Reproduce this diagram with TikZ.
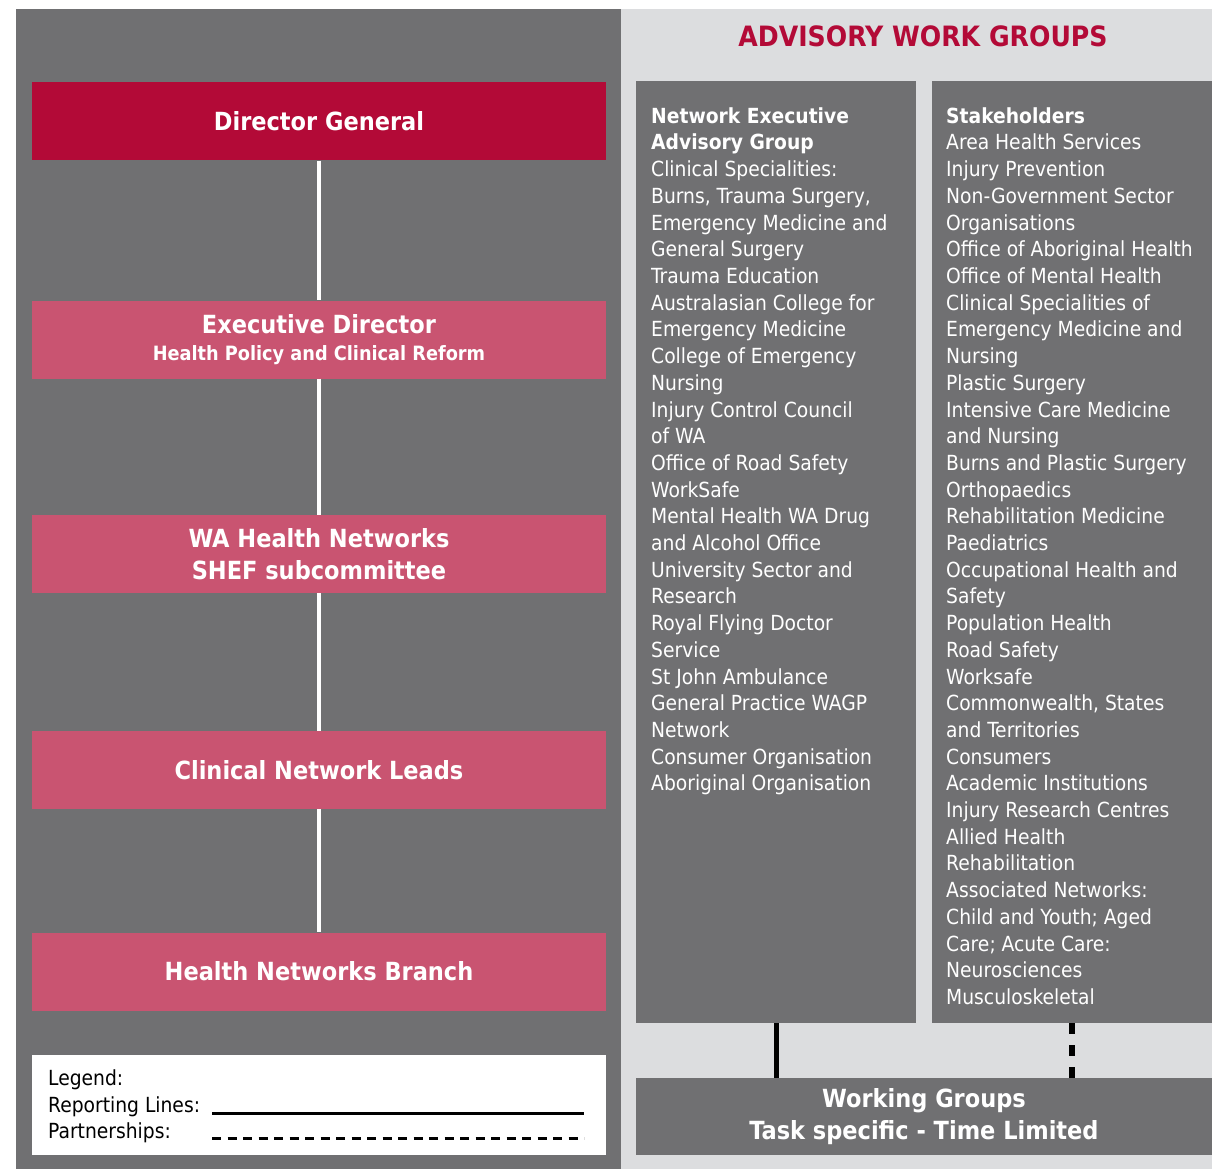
\documentclass[tikz,border=0pt]{standalone}
\usepackage{fontspec}
\setmainfont{DejaVu Sans Condensed}
\usepackage{tikz}
\usepackage{xcolor}
\definecolor{panelgrey}{HTML}{707072}
\definecolor{lightpanel}{HTML}{DCDDDF}
\definecolor{dgred}{HTML}{B30A37}
\definecolor{boxpink}{HTML}{C95471}

\begin{document}
\begin{tikzpicture}[x=1pt,y=-1pt,
  orgbox/.style={fill=boxpink,minimum width=574pt,minimum height=78pt,inner sep=0pt,text=white,align=center,font=\fontsize{25}{32}\selectfont\bfseries},
  colbox/.style={fill=panelgrey,anchor=north west,minimum width=280pt,minimum height=942pt,inner sep=0pt,outer sep=0pt},
  colline/.style={anchor=base west,inner sep=0pt,text=white,font=\fontsize{20.8}{24}\selectfont},
  legtext/.style={anchor=base west,inner sep=0pt,font=\fontsize{20.8}{24}\selectfont},
  whiteline/.style={line width=4pt,white},
  reportline/.style={line width=5pt,black},
  partline/.style={line width=6pt,black,dash pattern=on 11pt off 11pt}]
\useasboundingbox (0,0) rectangle (1212,1169);
\fill[white] (0,0) rectangle (1212,1169);
\fill[panelgrey] (16,9) rectangle (621,1169);
\fill[lightpanel] (621,9) rectangle (1212,1169);

\node[orgbox,fill=dgred] (dg) at (319,121.5) {Director General};
\node[orgbox] (ed) at (319,339.5) {Executive Director\\[-5pt]{\fontsize{19.7}{23}\selectfont Health Policy and Clinical Reform}};
\node[orgbox] (wa) at (319,554) {WA Health Networks\\SHEF subcommittee};
\node[orgbox] (cnl) at (319,770) {Clinical Network Leads};
\node[orgbox] (hnb) at (319,971.5) {Health Networks Branch};
\draw[whiteline] (dg) -- (ed);
\draw[whiteline] (ed) -- (wa);
\draw[whiteline] (wa) -- (cnl);
\draw[whiteline] (cnl) -- (hnb);

\node[fill=white,anchor=north west,minimum width=574pt,minimum height=100pt,inner sep=0pt] (legend) at (32,1055) {};
\node[legtext] (leg) at (48,1085) {Legend:};
\node[legtext] (rep) at (48,1112) {Reporting Lines:};
\node[legtext] (part) at (48,1138) {Partnerships:};
\coordinate (repA) at (212,1113);
\coordinate (repB) at (584,1113);
\coordinate (partA) at (212,1138);
\coordinate (partB) at (584,1138);
\draw[line width=3pt] (repA) -- (repB);
\draw[line width=3pt,dash pattern=on 9pt off 6.5pt] (partA) -- (partB);

\node[text=dgred,font=\fontsize{28}{32}\selectfont\bfseries] (title) at (923,36) {ADVISORY WORK GROUPS};

\node[colbox] (neag) at (636,81) {};
\node[colbox] (stake) at (932,81) {};
\foreach \t [count=\i from 0] in {\textbf{Network Executive},\textbf{Advisory Group},
  Clinical Specialities:,{Burns, Trauma Surgery,},Emergency Medicine and,General Surgery,
  Trauma Education,Australasian College for,Emergency Medicine,College of Emergency,
  Nursing,Injury Control Council,of WA,Office of Road Safety,WorkSafe,
  Mental Health WA Drug,and Alcohol Office,University Sector and,Research,
  Royal Flying Doctor,Service,St John Ambulance,General Practice WAGP,Network,
  Consumer Organisation,Aboriginal Organisation}
  \node[colline] (neag\i) at (651,{123.3+26.7*\i}) {\t};
\foreach \t [count=\i from 0] in {\textbf{Stakeholders},Area Health Services,
  Injury Prevention,Non-Government Sector,Organisations,Office of Aboriginal Health,
  Office of Mental Health,Clinical Specialities of,Emergency Medicine and,Nursing,
  Plastic Surgery,Intensive Care Medicine,and Nursing,Burns and Plastic Surgery,
  Orthopaedics,Rehabilitation Medicine,Paediatrics,Occupational Health and,Safety,
  Population Health,Road Safety,Worksafe,{Commonwealth, States},and Territories,
  Consumers,Academic Institutions,Injury Research Centres,Allied Health,
  Rehabilitation,Associated Networks:,Child and Youth; Aged,Care; Acute Care:,
  Neurosciences,Musculoskeletal}
  \node[colline] (stake\i) at (946,{123.3+26.7*\i}) {\t};

\node[orgbox,fill=panelgrey,minimum width=576pt,minimum height=77pt] (wg) at (924,1116.5) {Working Groups\\Task specific - Time Limited};
\draw[reportline] (neag.south) -- (neag.south |- wg.north);
\draw[partline] (stake.south) -- (stake.south |- wg.north);

\end{tikzpicture}
\end{document}
